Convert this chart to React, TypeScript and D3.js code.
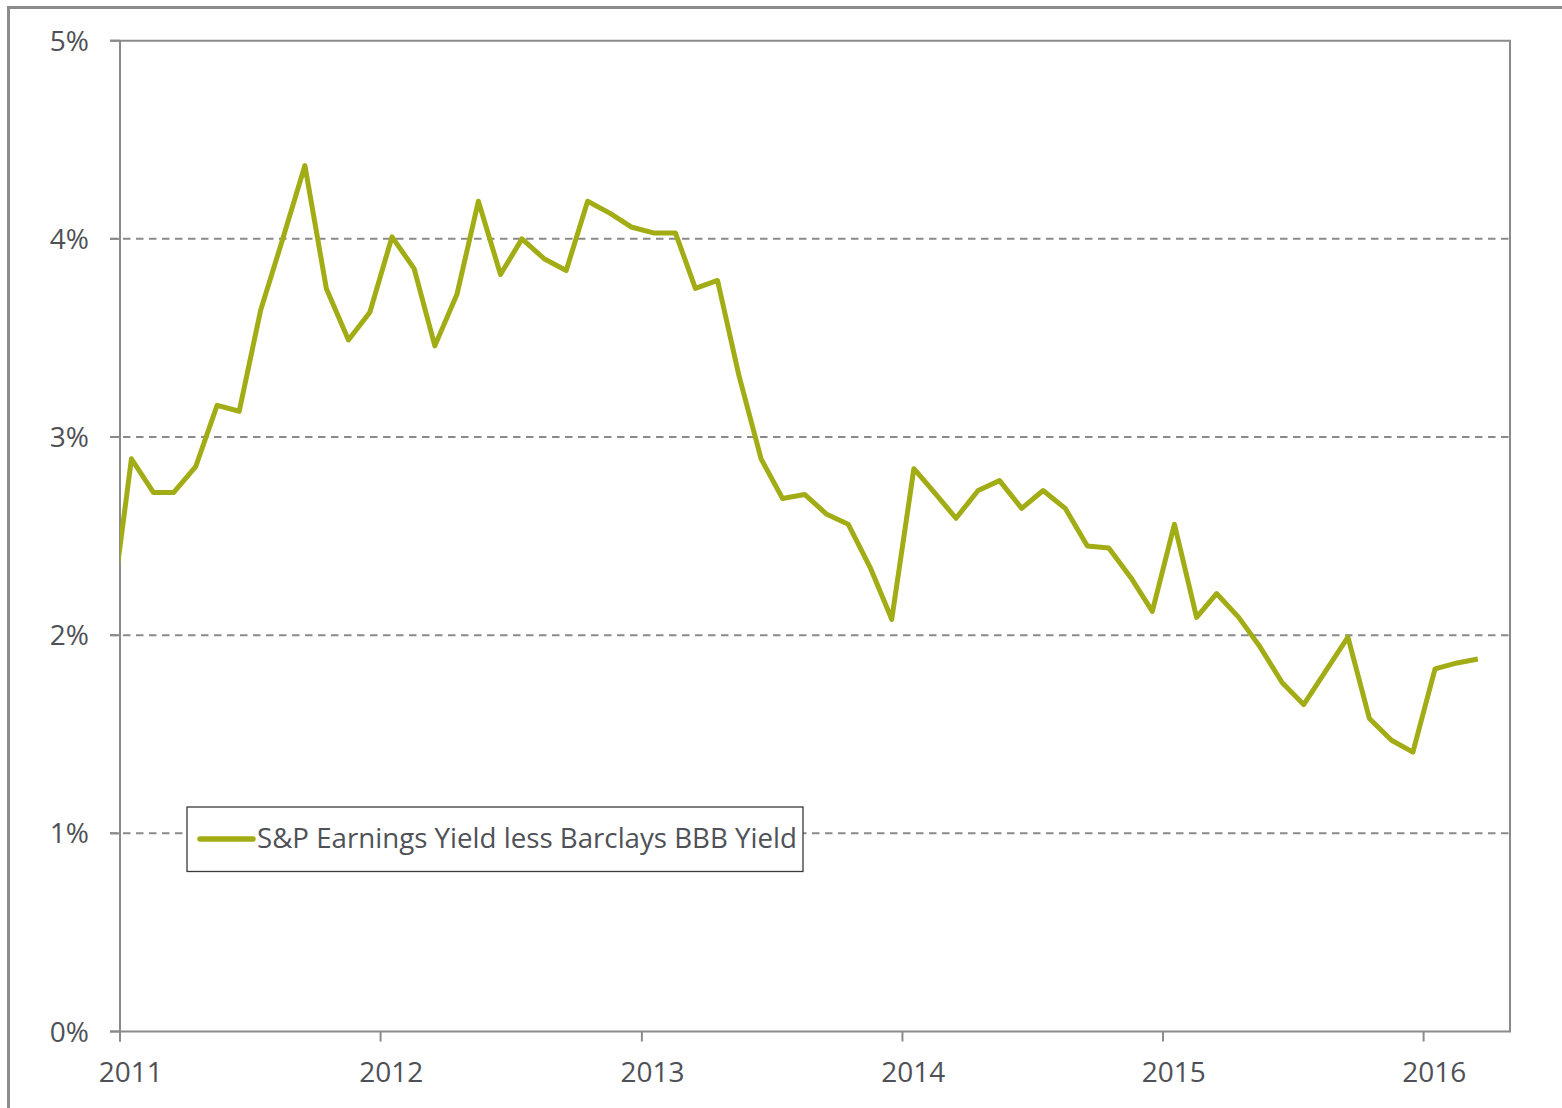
import React from "react";
import * as d3 from "d3";

// Monthly observations (mid-month), Dec 2010 .. Mar 2016
const startMonth = "2010-12";
const seriesValues: number[] = [
  2.03,
  2.89, 2.72, 2.72, 2.85, 3.16, 3.13, 3.64, 4.0, 4.37, 3.75, 3.49, 3.63,
  4.01, 3.85, 3.46, 3.72, 4.19, 3.82, 4.0, 3.9, 3.84, 4.19, 4.13, 4.06,
  4.03, 4.03, 3.75, 3.79, 3.31, 2.89, 2.69, 2.71, 2.61, 2.56, 2.34, 2.08,
  2.84, 2.71, 2.59, 2.73, 2.78, 2.64, 2.73, 2.64, 2.45, 2.44, 2.29, 2.12,
  2.56, 2.09, 2.21, 2.09, 1.94, 1.76, 1.65, 1.82, 1.99, 1.58, 1.47, 1.41,
  1.83, 1.86, 1.88,
];
const seriesName = "S&P Earnings Yield less Barclays BBB Yield";
const yTicks = [0, 1, 2, 3, 4, 5];
const xTickYears = [2011, 2012, 2013, 2014, 2015, 2016];

const W = 1562;
const H = 1108;
const left = 120;
const right = 1510;
const top = 40.7;
const bottom = 1031.5;

const LINE_COLOR = "#A2AD16";
const AXIS_COLOR = "#8a8a8a";
const TEXT_COLOR = "#4f5157";
const FONT = "'Open Sans', 'Noto Sans', sans-serif";

export default function App() {
  const [sy, sm] = startMonth.split("-").map(Number);
  const data = seriesValues.map((v, i) => ({
    date: new Date(sy, sm - 1 + i, 17),
    value: v,
  }));

  const x = d3
    .scaleTime()
    .domain([new Date(2011, 0, 1), new Date(2016, 4, 1)])
    .range([left, right]);
  const y = d3.scaleLinear().domain([0, 5]).range([bottom, top]);

  const line = d3
    .line<{ date: Date; value: number }>()
    .x((d) => x(d.date))
    .y((d) => y(d.value));

  return (
    <svg
      width={W}
      height={H}
      style={{ position: "absolute", left: 0, top: 0, background: "#fff" }}
      fontFamily={FONT}
    >
      <defs>
        <clipPath id="plotClip">
          <rect x={left} y={top - 10} width={right - left} height={bottom - top + 20} />
        </clipPath>
      </defs>
      {/* outer frame */}
      <rect x={8.5} y={7.5} width={1700} height={1300} fill="none" stroke="#8c8c8c" strokeWidth={3} />

      {/* gridlines */}
      {yTicks
        .filter((t) => t > 0 && t < 5)
        .map((t) => (
          <line
            key={"g" + t}
            x1={left - 10}
            x2={right}
            y1={y(t)}
            y2={y(t)}
            stroke={AXIS_COLOR}
            strokeWidth={2}
            strokeDasharray="7.5,5.5"
          />
        ))}
      {/* top and right border of plot */}
      <line x1={left - 10} x2={right + 1} y1={y(5)} y2={y(5)} stroke={AXIS_COLOR} strokeWidth={2} />
      <line x1={right} x2={right} y1={top} y2={bottom} stroke={AXIS_COLOR} strokeWidth={2} />
      {/* y axis */}
      <line x1={left} x2={left} y1={top} y2={bottom + 10} stroke={AXIS_COLOR} strokeWidth={2} />
      {yTicks.map((t) => (
        <g key={"y" + t}>
          <line x1={left - 10} x2={left} y1={y(t)} y2={y(t)} stroke={AXIS_COLOR} strokeWidth={2} />
          <text
            x={89}
            y={y(t) + 10}
            textAnchor="end"
            fontSize={28}
            fill={TEXT_COLOR}
          >
            {t}%
          </text>
        </g>
      ))}
      {/* x axis */}
      <line x1={left - 10} x2={right + 1} y1={bottom} y2={bottom} stroke={AXIS_COLOR} strokeWidth={2} />
      {xTickYears.map((yr) => {
        const tx = x(new Date(yr, 0, 1));
        const lx = x(new Date(yr, 0, 16));
        return (
          <g key={"x" + yr}>
            <line x1={tx} x2={tx} y1={bottom} y2={bottom + 10} stroke={AXIS_COLOR} strokeWidth={2} />
            <text x={lx} y={1082} textAnchor="middle" fontSize={28} fill={TEXT_COLOR}>
              {yr}
            </text>
          </g>
        );
      })}

      {/* series line */}
      <path
        d={line(data) || ""}
        fill="none"
        stroke={LINE_COLOR}
        strokeWidth={5}
        strokeLinejoin="round"
        clipPath="url(#plotClip)"
      />

      {/* legend */}
      <rect x={187} y={807} width={616} height={64.5} fill="#fff" stroke="#3a3a3a" strokeWidth={1.3} />
      <line x1={200} x2={253} y1={839} y2={839} stroke={LINE_COLOR} strokeWidth={5.5} strokeLinecap="round" />
      <text x={257} y={848} fontSize={28} fill={TEXT_COLOR} textLength={540} lengthAdjust="spacingAndGlyphs">
        {seriesName}
      </text>
    </svg>
  );
}
